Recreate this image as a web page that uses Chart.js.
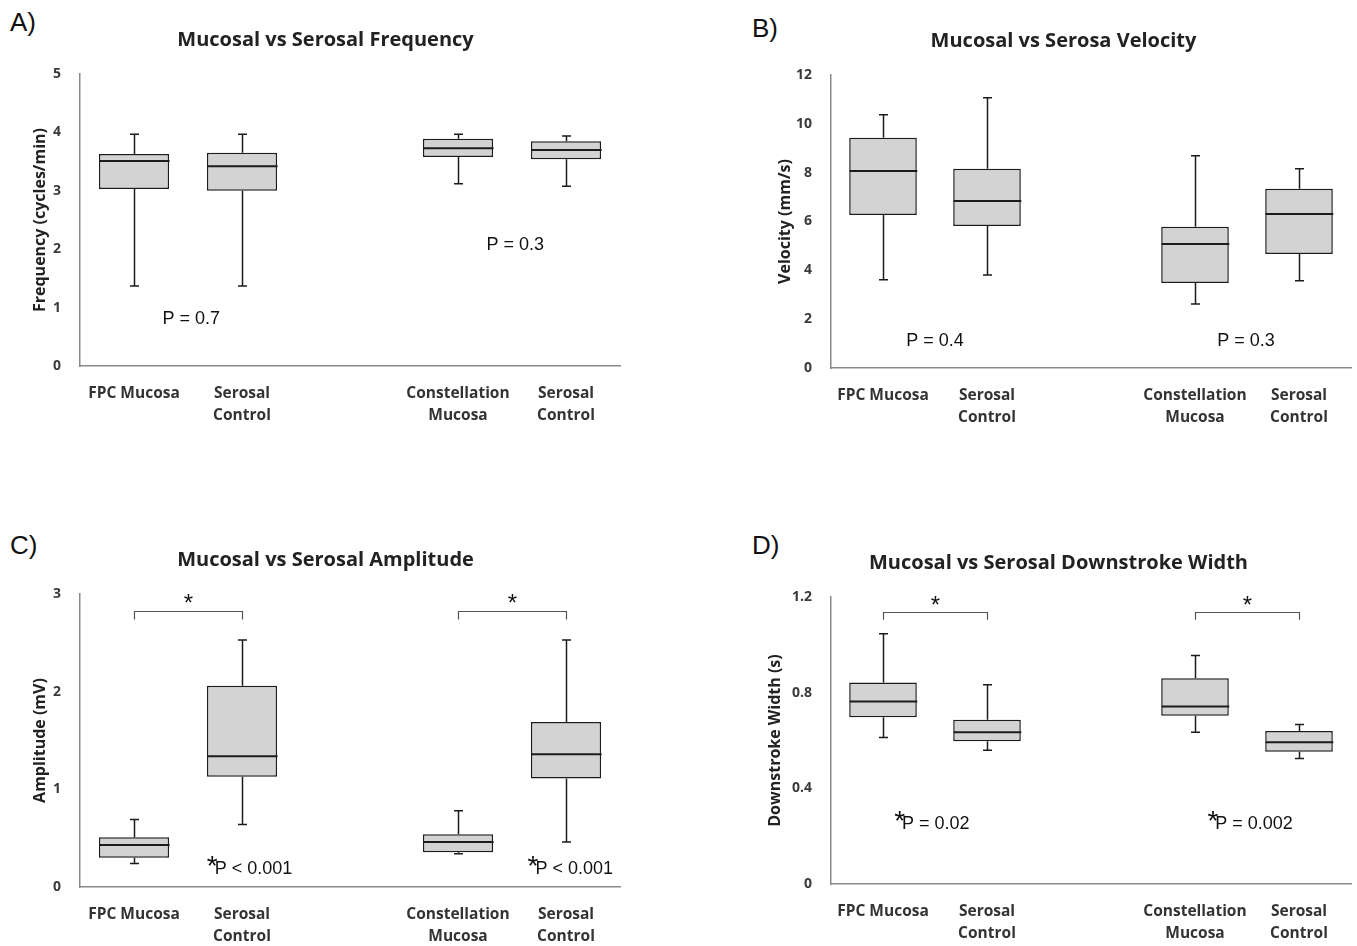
<!DOCTYPE html>
<html>
<head>
<meta charset="utf-8">
<title>Mucosal vs Serosal</title>
<script src="https://cdn.jsdelivr.net/npm/chart.js@4.4.0/dist/chart.umd.min.js"></script>
<style>
  body { margin: 0; background: #fff; width: 1357px; height: 946px; position: relative; overflow: hidden; }
  .panel { position: absolute; }
  .letter { position: absolute; font: 26px 'Liberation Sans', Arial, sans-serif; color: #111; }
</style>
</head>
<body>
<div class="letter" style="left:10px;top:7px">A)</div>
<div class="letter" style="left:752px;top:13px">B)</div>
<div class="letter" style="left:10px;top:530px">C)</div>
<div class="letter" style="left:752px;top:530px">D)</div>

<div class="panel" style="left:0px;top:0px;width:644px;height:440px"><canvas id="chartA"></canvas></div>
<div class="panel" style="left:740px;top:1px;width:617px;height:440px"><canvas id="chartB"></canvas></div>
<div class="panel" style="left:0px;top:520px;width:644px;height:426px"><canvas id="chartC"></canvas></div>
<div class="panel" style="left:740px;top:523px;width:617px;height:423px"><canvas id="chartD"></canvas></div>

<script>
// ---- data ----
// empty slot in the middle separates the two groups
const categories = ['FPC Mucosa', ['Serosal', 'Control'], '', ['Constellation', 'Mucosa'], ['Serosal', 'Control']];

// A) frequency, cycles/min
const freqMin = [1.37, 1.37, null, 3.12, 3.08];
const freqQ1  = [3.03, 3.00, null, 3.58, 3.54];
const freqMed = [3.51, 3.42, null, 3.73, 3.70];
const freqQ3  = [3.63, 3.65, null, 3.89, 3.85];
const freqMax = [3.97, 3.97, null, 3.97, 3.94];
const freqTicks = [0, 1, 2, 3, 4, 5];

// B) velocity, mm/s
const velMin = [3.61, 3.81, null, 2.62, 3.57];
const velQ1  = [6.27, 5.82, null, 3.48, 4.67];
const velMed = [8.07, 6.84, null, 5.08, 6.31];
const velQ3  = [9.43, 8.16, null, 5.78, 7.34];
const velMax = [10.37, 11.07, null, 8.69, 8.16];
const velTicks = [0, 2, 4, 6, 8, 10, 12];

// C) amplitude, mV
const ampMin = [0.24, 0.64, null, 0.34, 0.46];
const ampQ1  = [0.30, 1.13, null, 0.355, 1.11];
const ampMed = [0.43, 1.34, null, 0.46, 1.36];
const ampQ3  = [0.51, 2.06, null, 0.54, 1.69];
const ampMax = [0.69, 2.53, null, 0.78, 2.53];
const ampTicks = [0, 1, 2, 3];

// D) downstroke width, s
const dsMin = [0.613, 0.559, null, 0.634, 0.525];
const dsQ1  = [0.697, 0.597, null, 0.703, 0.553];
const dsMed = [0.763, 0.634, null, 0.742, 0.593];
const dsQ3  = [0.843, 0.687, null, 0.860, 0.640];
const dsMax = [1.046, 0.833, null, 0.955, 0.667];
const dsTicks = [0, 0.4, 0.8, 1.2];

// p-value notes and significance brackets (category / data units)
const freqNotes = [{ text: 'P = 0.7', x: 0.53, y: 0.82 }, { text: 'P = 0.3', x: 3.53, y: 2.09 }];
const velNotes  = [{ text: 'P = 0.4', x: 0.5, y: 1.15 }, { text: 'P = 0.3', x: 3.49, y: 1.15 }];
const ampNotes  = [{ text: 'P < 0.001', star: true, x: 1.07, y: 0.19 }, { text: 'P < 0.001', star: true, x: 4.04, y: 0.19 }];
const dsNotes   = [{ text: 'P = 0.02', star: true, x: 0.47, y: 0.255 }, { text: 'P = 0.002', star: true, x: 3.53, y: 0.255 }];
const ampBrackets = [{ from: 0, to: 1, top: 2.83, leg: 2.74, star: 2.94 }, { from: 3, to: 4, top: 2.83, leg: 2.74, star: 2.94 }];
const dsBrackets  = [{ from: 0, to: 1, top: 1.136, leg: 1.105, star: 1.18 }, { from: 3, to: 4, top: 1.136, leg: 1.105, star: 1.18 }];

Chart.defaults.animation = false;
Chart.defaults.font.family = "'Open Sans', Lato, sans-serif";

// whiskers + median drawn on top of the floating bars
const boxPlot = {
  id: 'boxPlot',
  afterDatasetsDraw(chart, args, opts) {
    const { ctx } = chart;
    const x = chart.scales.x, y = chart.scales.y;
    const bars = chart.getDatasetMeta(0).data;
    ctx.save();
    ctx.strokeStyle = '#1c1c1c';
    opts.mins.forEach((lo, i) => {
      if (lo === null) return;
      const cx = Math.round(x.getPixelForValue(i)) + 0.5;
      const half = bars[i].width / 2;
      const yMin = y.getPixelForValue(lo);
      const yMax = y.getPixelForValue(opts.maxs[i]);
      const yQ1 = y.getPixelForValue(opts.q1s[i]);
      const yQ3 = y.getPixelForValue(opts.q3s[i]);
      const yMed = y.getPixelForValue(opts.meds[i]);
      ctx.lineWidth = 1.5;
      ctx.beginPath();
      ctx.moveTo(cx, yQ3); ctx.lineTo(cx, yMax);
      ctx.moveTo(cx - 4.5, yMax); ctx.lineTo(cx + 4.5, yMax);
      ctx.moveTo(cx, yQ1); ctx.lineTo(cx, yMin);
      ctx.moveTo(cx - 4.5, yMin); ctx.lineTo(cx + 4.5, yMin);
      ctx.stroke();
      ctx.lineWidth = 2;
      ctx.beginPath();
      ctx.moveTo(cx - half, yMed); ctx.lineTo(cx + half, yMed);
      ctx.stroke();
    });
    ctx.restore();
  }
};

const notes = {
  id: 'notes',
  afterDraw(chart, args, opts) {
    const { ctx } = chart;
    const x = chart.scales.x, y = chart.scales.y;
    ctx.save();
    (opts.brackets || []).forEach(b => {
      const x0 = Math.round(x.getPixelForValue(b.from)) + 0.5;
      const x1 = Math.round(x.getPixelForValue(b.to)) + 0.5;
      const yTop = Math.round(y.getPixelForValue(b.top)) + 0.5;
      const yLeg = y.getPixelForValue(b.leg);
      ctx.strokeStyle = '#555';
      ctx.lineWidth = 1.2;
      ctx.beginPath();
      ctx.moveTo(x0, yLeg); ctx.lineTo(x0, yTop); ctx.lineTo(x1, yTop); ctx.lineTo(x1, yLeg);
      ctx.stroke();
      ctx.fillStyle = '#111';
      ctx.font = "24px 'Liberation Sans', Arial, sans-serif";
      ctx.textAlign = 'center';
      ctx.textBaseline = 'middle';
      ctx.fillText('*', (x0 + x1) / 2, y.getPixelForValue(b.star) + 5);
    });
    (opts.labels || []).forEach(l => {
      const cx = x.getPixelForValue(l.x), cy = y.getPixelForValue(l.y);
      ctx.fillStyle = '#111';
      ctx.textAlign = 'left';
      ctx.textBaseline = 'middle';
      ctx.font = "18px 'Liberation Sans', Arial, sans-serif";
      const w = ctx.measureText(l.text).width;
      let sw = 0;
      if (l.star) {
        ctx.font = "28px 'Liberation Sans', Arial, sans-serif";
        sw = ctx.measureText('*').width - 3;
      }
      const left = cx - (w + sw) / 2;
      if (l.star) ctx.fillText('*', left, cy - 1);
      ctx.font = "18px 'Liberation Sans', Arial, sans-serif";
      ctx.fillText(l.text, left + sw, cy + 1);
    });
    ctx.restore();
  }
};

function makePanel(id, p) {
  const xH = 56;
  return new Chart(document.getElementById(id), {
    type: 'bar',
    data: {
      labels: categories,
      datasets: [{
        data: p.q1.map((v, i) => v === null ? null : [v, p.q3[i]]),
        backgroundColor: '#d3d3d3',
        borderColor: '#1c1c1c',
        borderWidth: 1.5,
        borderSkipped: false,
        categoryPercentage: 1,
        barPercentage: 0.65
      }]
    },
    options: {
      responsive: true,
      maintainAspectRatio: false,
      layout: { padding: { left: p.padL, right: p.padR, top: 28, bottom: p.height - p.areaBottom - xH } },
      scales: {
        x: {
          grid: { display: false },
          border: { color: '#8a8a8a', width: 1.5 },
          ticks: { font: { size: 15.5, weight: 'bold', lineHeight: 1.42 }, color: '#333', padding: 9, maxRotation: 0, autoSkip: false },
          afterFit: s => { s.height = xH; }
        },
        y: {
          min: p.ticks[0],
          max: p.ticks[p.ticks.length - 1],
          afterBuildTicks: s => { s.ticks = p.ticks.map(v => ({ value: v })); },
          grid: { display: false },
          border: { color: '#8a8a8a', width: 1.5 },
          ticks: { font: { size: 14, weight: 'bold' }, color: '#3a3a3a', padding: 11 },
          title: { display: true, text: p.yTitle, font: { size: 16, weight: 'bold' }, color: '#222', padding: 0 },
          afterFit: s => { s.width = p.yW; }
        }
      },
      plugins: {
        legend: { display: false },
        tooltip: { enabled: false },
        title: {
          display: true,
          text: p.title,
          font: { size: 20, weight: 'bold', lineHeight: 1.2 },
          color: '#222',
          padding: { top: 0, bottom: p.areaTop - 28 - 24 }
        },
        boxPlot: { mins: p.min, q1s: p.q1, meds: p.med, q3s: p.q3, maxs: p.max },
        notes: { labels: p.notes, brackets: p.brackets }
      }
    },
    plugins: [boxPlot, notes]
  });
}

makePanel('chartA', {
  title: 'Mucosal vs Serosal Frequency', yTitle: 'Frequency (cycles/min)',
  min: freqMin, q1: freqQ1, med: freqMed, q3: freqQ3, max: freqMax, ticks: freqTicks,
  notes: freqNotes, padL: 31, yW: 49, padR: 24, height: 440, areaTop: 74, areaBottom: 366
});
makePanel('chartB', {
  title: 'Mucosal vs Serosa Velocity', yTitle: 'Velocity (mm/s)',
  min: velMin, q1: velQ1, med: velMed, q3: velQ3, max: velMax, ticks: velTicks,
  notes: velNotes, padL: 36, yW: 55, padR: 6, height: 440, areaTop: 74, areaBottom: 367
});
makePanel('chartC', {
  title: 'Mucosal vs Serosal Amplitude', yTitle: 'Amplitude (mV)',
  min: ampMin, q1: ampQ1, med: ampMed, q3: ampQ3, max: ampMax, ticks: ampTicks,
  notes: ampNotes, brackets: ampBrackets, padL: 31, yW: 49, padR: 24, height: 426, areaTop: 74, areaBottom: 367
});
makePanel('chartD', {
  title: 'Mucosal vs Serosal Downstroke Width', yTitle: 'Downstroke Width (s)',
  min: dsMin, q1: dsQ1, med: dsMed, q3: dsQ3, max: dsMax, ticks: dsTicks,
  notes: dsNotes, brackets: dsBrackets, padL: 26, yW: 65, padR: 6, height: 423, areaTop: 74, areaBottom: 361
});
</script>
</body>
</html>
